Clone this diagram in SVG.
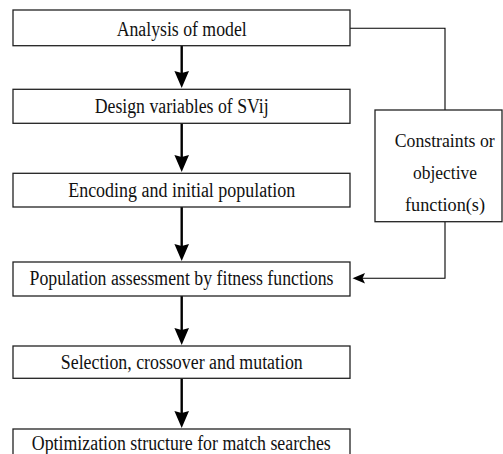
<svg xmlns="http://www.w3.org/2000/svg" width="503" height="454" viewBox="0 0 503 454">
<style>
.box{fill:#fff;stroke:#222;stroke-width:1.3}
.flow{stroke:#000;stroke-width:2.4;fill:none}
.thin{stroke:#000;stroke-width:1.1;fill:none}
.head{fill:#000;stroke:none}
</style>
<defs>
<path id="ah" d="M0,0 L-7.3,-17 L0,-15 L7.3,-17 Z"/>
</defs>
<rect width="503" height="454" fill="#fff"/>
<g id="connectors">
<line class="flow" x1="181.7" y1="46" x2="181.7" y2="80"/>
<use href="#ah" class="head" x="181.7" y="88"/>
<line class="flow" x1="181.7" y1="123" x2="181.7" y2="164"/>
<use href="#ah" class="head" x="181.7" y="172"/>
<line class="flow" x1="181.7" y1="207" x2="181.7" y2="253"/>
<use href="#ah" class="head" x="181.7" y="261"/>
<line class="flow" x1="181.7" y1="296" x2="181.7" y2="337"/>
<use href="#ah" class="head" x="181.7" y="345"/>
<line class="flow" x1="181.7" y1="378" x2="181.7" y2="420"/>
<use href="#ah" class="head" x="181.7" y="428"/>
<polyline class="thin" points="350,28.3 445,28.3 445,110"/>
<polyline class="thin" points="445,222 445,278.3 360,278.3"/>
<path class="head" d="M352.5,278.3 L365,273 L362.5,278.3 L365,283.6 Z"/>
</g>
<g id="n1"><rect class="box" x="13" y="10" width="337" height="35.7"/><text font-family="Liberation Serif" font-size="20" fill="#111" text-anchor="middle" x="181.7" y="35.5" textLength="130" lengthAdjust="spacingAndGlyphs">Analysis of model</text></g>
<g id="n2"><rect class="box" x="13" y="89.3" width="337" height="34"/><text font-family="Liberation Serif" font-size="20" fill="#111" text-anchor="middle" x="181.7" y="113.3" textLength="174" lengthAdjust="spacingAndGlyphs">Design variables of SVij</text></g>
<g id="n3"><rect class="box" x="13" y="173.3" width="337" height="33.7"/><text font-family="Liberation Serif" font-size="20" fill="#111" text-anchor="middle" x="181.7" y="196.7" textLength="227" lengthAdjust="spacingAndGlyphs">Encoding and initial population</text></g>
<g id="n4"><rect class="box" x="13" y="262" width="337" height="34"/><text font-family="Liberation Serif" font-size="20" fill="#111" text-anchor="middle" x="181.5" y="285" textLength="304" lengthAdjust="spacingAndGlyphs">Population assessment by fitness functions</text></g>
<g id="n5"><rect class="box" x="13" y="346" width="337" height="32.3"/><text font-family="Liberation Serif" font-size="20" fill="#111" text-anchor="middle" x="181.8" y="369" textLength="242" lengthAdjust="spacingAndGlyphs">Selection, crossover and mutation</text></g>
<g id="n6"><rect class="box" x="13" y="429" width="337" height="40"/><text font-family="Liberation Serif" font-size="20" fill="#111" text-anchor="middle" x="181.3" y="450" textLength="299" lengthAdjust="spacingAndGlyphs">Optimization structure for match searches</text></g>
<g id="n7"><rect class="box" x="375" y="110" width="127" height="111.7"/>
<text font-family="Liberation Serif" font-size="19" fill="#111" text-anchor="middle" x="444.7" y="146.7" textLength="100" lengthAdjust="spacingAndGlyphs">Constraints or</text>
<text font-family="Liberation Serif" font-size="19" fill="#111" text-anchor="middle" x="445" y="178.5" textLength="64" lengthAdjust="spacingAndGlyphs">objective</text>
<text font-family="Liberation Serif" font-size="19" fill="#111" text-anchor="middle" x="445" y="210.5" textLength="80" lengthAdjust="spacingAndGlyphs">function(s)</text></g>
</svg>
